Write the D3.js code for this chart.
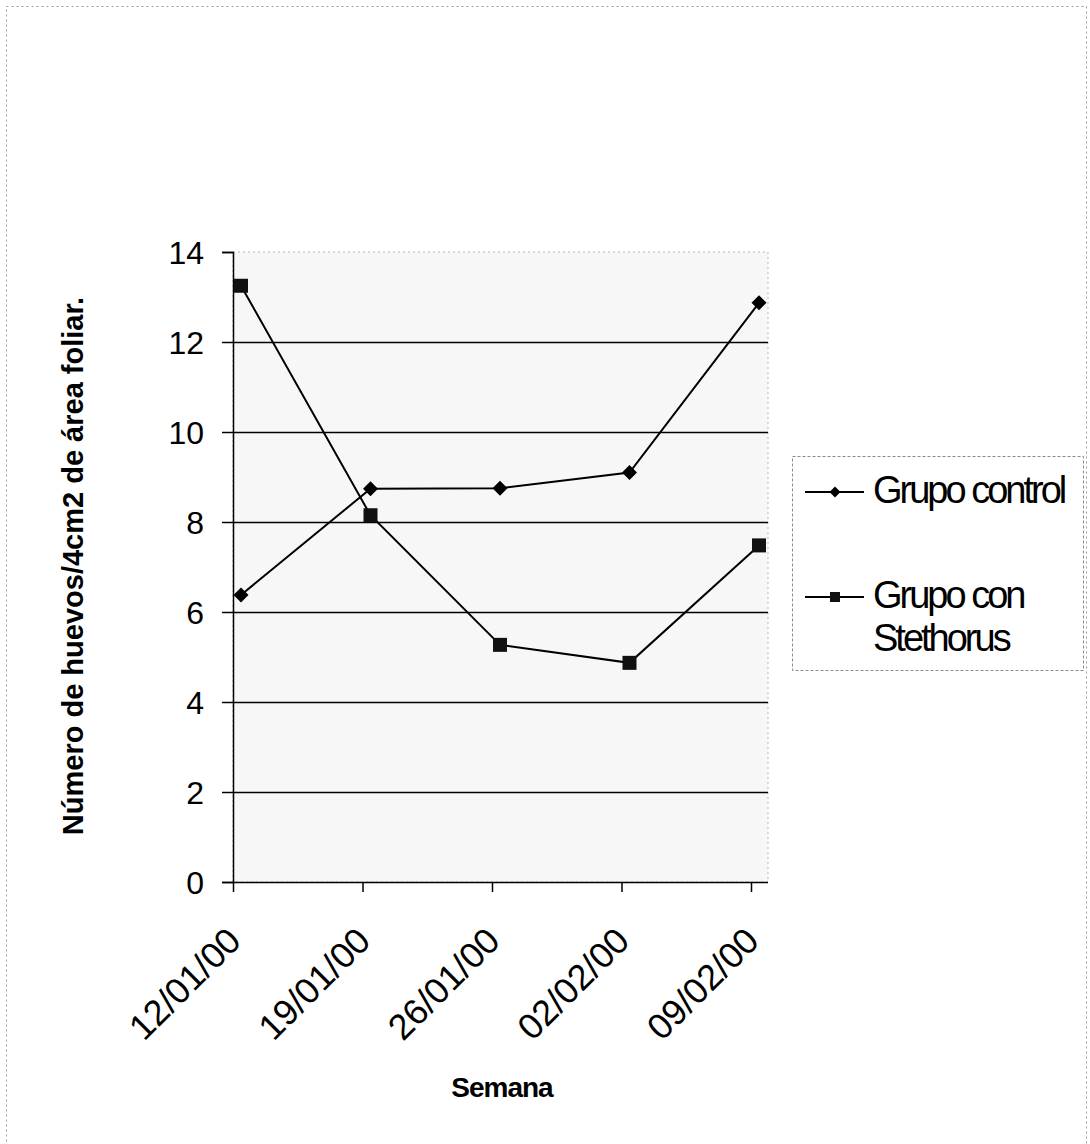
<!DOCTYPE html>
<html>
<head>
<meta charset="utf-8">
<script src="https://cdn.jsdelivr.net/npm/d3@7"></script>
<style>
  html, body { margin: 0; padding: 0; background: #fff; }
  svg { display: block; }
  text { font-family: "Liberation Sans", Arial, sans-serif; fill: #000; }
</style>
</head>
<body>
<svg id="chart" width="1090" height="1144"></svg>
<script>
// ---- data ----
const categories = ["12/01/00", "19/01/00", "26/01/00", "02/02/00", "09/02/00"];
const grupoControl = [6.38, 8.74, 8.75, 9.1, 12.87];
const grupoStethorus = [13.25, 8.15, 5.27, 4.87, 7.48];
const seriesNames = ["Grupo control", ["Grupo con", "Stethorus"]];
const yTicks = [0, 2, 4, 6, 8, 10, 12, 14];
const yTitle = "Número de huevos/4cm2 de área foliar.";
const xTitle = "Semana";

// ---- layout ----
const svg = d3.select("#chart");
const plot = { left: 233, right: 768, top: 252, bottom: 882 };

const x = d3.scalePoint().domain(categories).range([233, 751]);
const markerShift = 8;
const y = d3.scaleLinear().domain([0, 14]).range([plot.bottom, plot.top]);

// outer chart border
svg.append("rect")
  .attr("x", 6.5).attr("y", 6.5).attr("width", 1080).attr("height", 1150)
  .attr("fill", "none").attr("stroke", "#9a9a9a").attr("stroke-width", 1)
  .attr("stroke-dasharray", "2,3");

// plot area background
svg.append("rect")
  .attr("x", plot.left).attr("y", plot.top)
  .attr("width", plot.right - plot.left).attr("height", plot.bottom - plot.top)
  .attr("fill", "#f7f7f7").attr("stroke", "#b5b5b5").attr("stroke-width", 1)
  .attr("stroke-dasharray", "2,3");

// gridlines
svg.append("g").selectAll("line")
  .data(yTicks.filter(t => t > 0 && t < 14))
  .join("line")
  .attr("x1", plot.left).attr("x2", plot.right)
  .attr("y1", d => Math.round(y(d)) + 0.5).attr("y2", d => Math.round(y(d)) + 0.5)
  .attr("stroke", "#000").attr("stroke-width", 1.5);

// y axis
const yAxis = svg.append("g")
  .attr("transform", `translate(${plot.left},0)`)
  .call(d3.axisLeft(y).tickValues(yTicks).tickSize(11).tickPadding(18).tickFormat(d3.format("d")));
yAxis.select(".domain").attr("stroke", "#000").attr("stroke-width", 1.5);
yAxis.selectAll(".tick line").attr("stroke", "#000").attr("stroke-width", 1.5);
yAxis.selectAll(".tick text")
  .attr("font-size", 32).attr("font-family", "Liberation Sans, Arial, sans-serif")
  .attr("fill", "#000").attr("dy", "0.36em");

// x axis
const xAxis = svg.append("g")
  .attr("transform", `translate(0,${plot.bottom})`)
  .call(d3.axisBottom(x).tickSize(10).tickFormat(""));
xAxis.select(".domain").remove();
svg.append("line")
  .attr("x1", plot.left).attr("x2", plot.right)
  .attr("y1", plot.bottom + 0.5).attr("y2", plot.bottom + 0.5)
  .attr("stroke", "#000").attr("stroke-width", 1.5);
xAxis.selectAll(".tick line").attr("stroke", "#000").attr("stroke-width", 1.5);

// x tick labels rotated
svg.append("g").selectAll("text")
  .data(categories)
  .join("text")
  .attr("transform", d => `translate(${x(d) + 10},${943}) rotate(-45)`)
  .attr("text-anchor", "end")
  .attr("font-size", 36)
  .text(d => d);

// axis titles
svg.append("text")
  .attr("transform", "translate(83,566) rotate(-90)")
  .attr("text-anchor", "middle")
  .attr("font-size", 29).attr("font-weight", "bold")
  .text(yTitle);

svg.append("text")
  .attr("x", 502).attr("y", 1097)
  .attr("text-anchor", "middle")
  .attr("font-size", 28).attr("font-weight", "bold")
  .attr("letter-spacing", "-1")
  .text(xTitle);

// series lines
const line = d3.line()
  .x((d, i) => x(categories[i]) + markerShift)
  .y(d => y(d));

svg.append("path").datum(grupoControl)
  .attr("d", line).attr("fill", "none").attr("stroke", "#000").attr("stroke-width", 2);
svg.append("path").datum(grupoStethorus)
  .attr("d", line).attr("fill", "none").attr("stroke", "#000").attr("stroke-width", 2);

function diamondPath(size) {
  const r = size / 2;
  return `M0,${-r}L${r},0L0,${r}L${-r},0Z`;
}
svg.append("g").selectAll("path")
  .data(grupoControl)
  .join("path")
  .attr("transform", (d, i) => `translate(${x(categories[i]) + markerShift},${y(d)})`)
  .attr("d", diamondPath(15))
  .attr("fill", "#000");

svg.append("g").selectAll("rect")
  .data(grupoStethorus)
  .join("rect")
  .attr("x", (d, i) => x(categories[i]) + markerShift - 7)
  .attr("y", d => y(d) - 7)
  .attr("width", 14).attr("height", 14)
  .attr("fill", "#111");

// legend
const lg = svg.append("g");
lg.append("rect")
  .attr("x", 792.5).attr("y", 456.5).attr("width", 291).attr("height", 214)
  .attr("fill", "#fff").attr("stroke", "#8a8a8a").attr("stroke-width", 1)
  .attr("stroke-dasharray", "3,2");

const legRows = [
  { name: seriesNames[0], y: 492, marker: "diamond" },
  { name: seriesNames[1], y: 597, marker: "square" }
];
legRows.forEach(r => {
  lg.append("line").attr("x1", 805).attr("x2", 864)
    .attr("y1", r.y).attr("y2", r.y).attr("stroke", "#000").attr("stroke-width", 2);
  if (r.marker === "diamond") {
    lg.append("path").attr("transform", `translate(835,${r.y})`).attr("d", diamondPath(11)).attr("fill", "#000");
  } else {
    lg.append("rect").attr("x", 830).attr("y", r.y - 5).attr("width", 10).attr("height", 10).attr("fill", "#111");
  }
  const lines = Array.isArray(r.name) ? r.name : [r.name];
  const t = lg.append("text")
    .attr("x", 873).attr("y", r.y + 11)
    .attr("font-size", 38).attr("letter-spacing", "-3");
  lines.forEach((s, i) => {
    t.append("tspan").attr("x", 873).attr("dy", i === 0 ? 0 : 43).text(s);
  });
});
</script>
</body>
</html>
